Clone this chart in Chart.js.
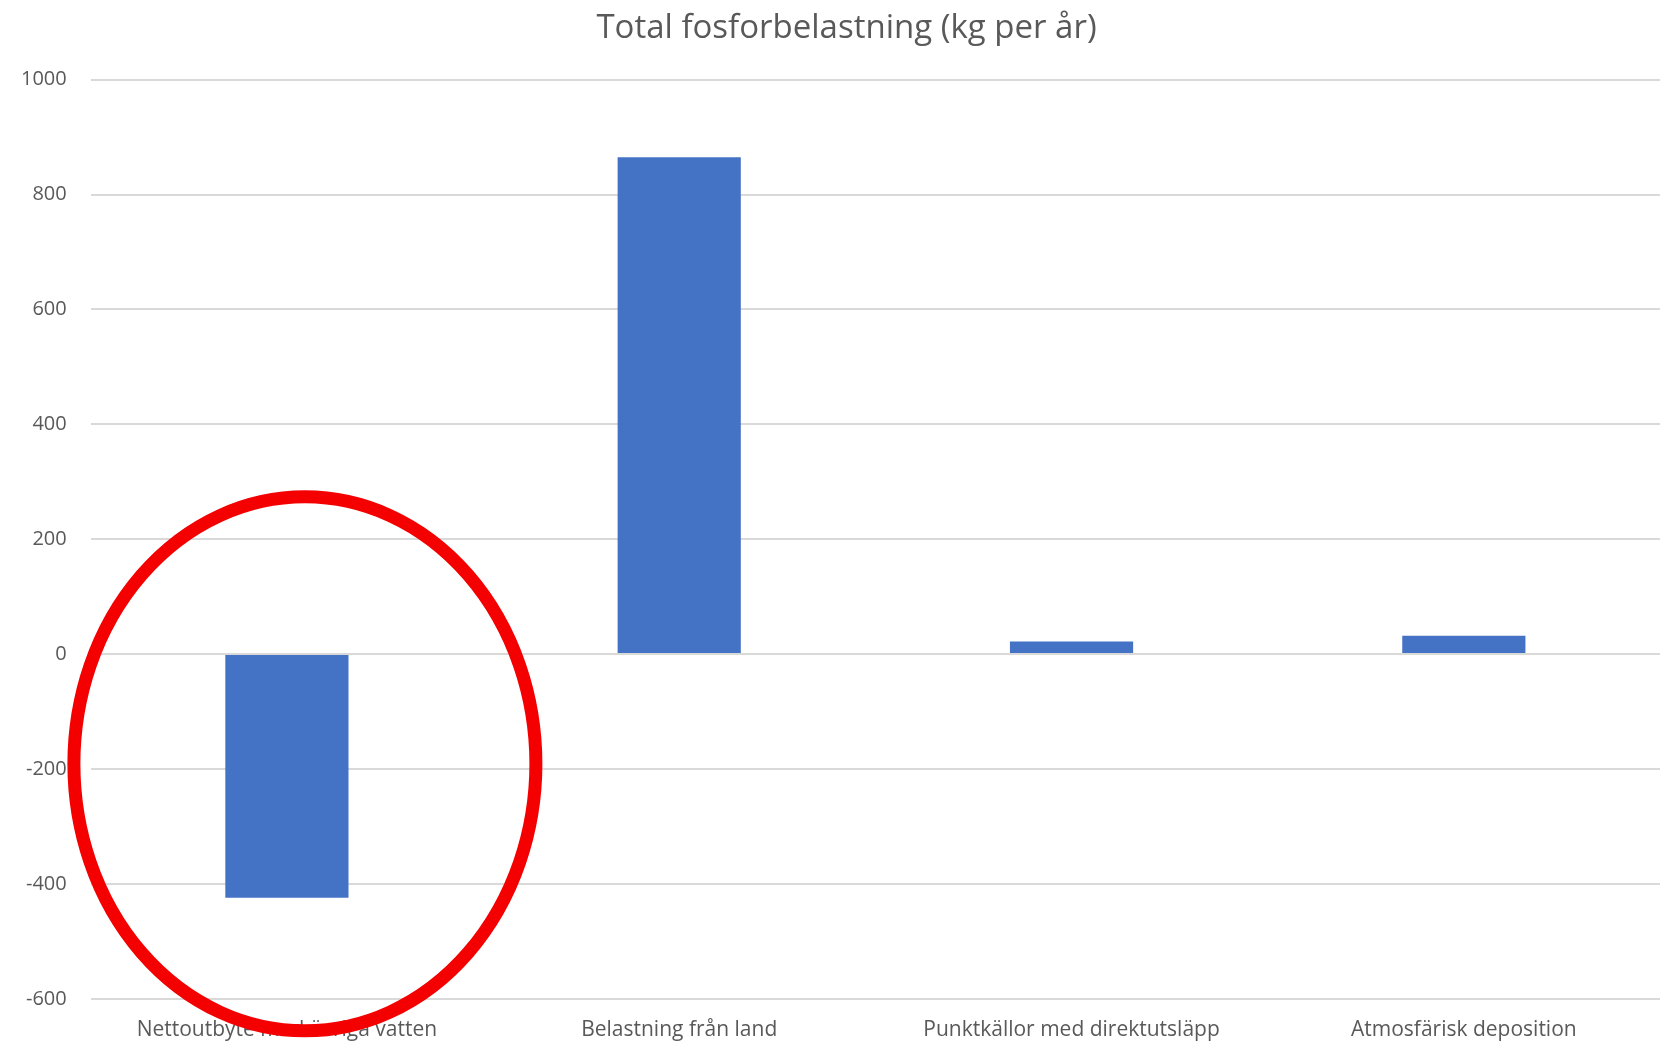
<!DOCTYPE html>
<html>
<head>
<meta charset="utf-8">
<style>
  html, body { margin: 0; padding: 0; background: #ffffff; }
  #wrap { width: 1668px; height: 1042px; }
</style>
<script src="https://cdn.jsdelivr.net/npm/chart.js@4/dist/chart.umd.min.js"></script>
</head>
<body>
<div id="wrap"><canvas id="fosforChart"></canvas></div>
<script>
const categories = [
  'Nettoutbyte med övriga vatten',
  'Belastning från land',
  'Punktkällor med direktutsläpp',
  'Atmosfärisk deposition'
];
const phosphorusLoad = [-424, 865, 22, 32];
const yTicks = [-600, -400, -200, 0, 200, 400, 600, 800, 1000];

const barColor = '#4472c4';
const gridColor = '#d9d9d9';
const textColor = '#595959';

// red ring drawn around the first bar
const ringPlugin = {
  id: 'ring',
  afterLayout(chart) {
    // title sits a little right of the canvas centre
    chart.titleBlock.left += 18;
    chart.titleBlock.right += 18;
  },
  afterDraw(chart) {
    const { ctx, scales } = chart;
    const cx = scales.x.getPixelForValue(0) + 18;
    const cy = scales.y.getPixelForValue(-191);
    ctx.save();
    ctx.beginPath();
    ctx.ellipse(cx, cy, 231, 267, 0, 0, Math.PI * 2);
    ctx.strokeStyle = '#f50000';
    ctx.lineWidth = 13;
    ctx.stroke();
    ctx.restore();
  }
};

new Chart(document.getElementById('fosforChart'), {
  type: 'bar',
  data: {
    labels: categories,
    datasets: [{
      label: 'Total fosforbelastning',
      data: phosphorusLoad,
      backgroundColor: barColor,
      borderWidth: 0,
      barPercentage: 0.314,
      categoryPercentage: 1
    }]
  },
  options: {
    responsive: true,
    maintainAspectRatio: false,
    animation: false,
    // axis fit doubles tick padding, so pull the edges back in
    layout: { padding: { left: -3, right: 8, top: 9, bottom: -20 } },
    plugins: {
      legend: { display: false },
      tooltip: { enabled: false },
      title: {
        display: true,
        text: 'Total fosforbelastning (kg per år)',
        color: textColor,
        font: { family: "'Open Sans', sans-serif", size: 33, weight: 'normal' },
        padding: { top: 0, bottom: 31 }
      }
    },
    scales: {
      x: {
        grid: { display: false, drawTicks: false },
        border: { display: false },
        ticks: {
          color: textColor,
          font: { family: "'Open Sans', sans-serif", size: 21 },
          padding: 19,
          maxRotation: 0
        },
        afterFit: axis => { axis.paddingLeft = 0; axis.paddingRight = 0; }
      },
      y: {
        min: yTicks[0],
        max: yTicks[yTicks.length - 1],
        afterBuildTicks: axis => { axis.ticks = yTicks.map(v => ({ value: v })); },
        grid: { color: gridColor, lineWidth: 2, drawTicks: false },
        border: { display: false },
        ticks: {
          color: textColor,
          font: { family: "'Open Sans', sans-serif", size: 20 },
          padding: 24,
          callback: v => String(v)
        }
      }
    }
  },
  plugins: [ringPlugin]
});
</script>
</body>
</html>
